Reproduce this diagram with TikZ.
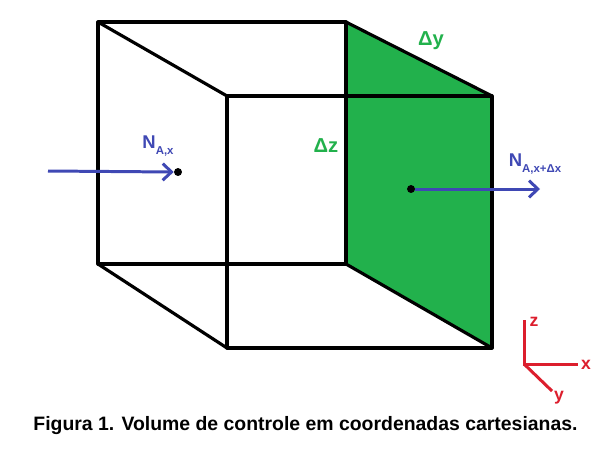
\documentclass[tikz,border=0pt]{standalone}
\usepackage{fontspec}
\setmainfont{Liberation Sans}
\usetikzlibrary{arrows.meta}
\definecolor{facegreen}{RGB}{34,177,76}
\definecolor{fluxblue}{RGB}{63,72,180}
\definecolor{axisred}{RGB}{220,30,45}
\tikzset{
    edge/.style={line width=1.8pt, line cap=round, line join=round},
    flux/.style={line width=1.7pt, fluxblue, -{Straight Barb[length=5pt, width=9.5pt, line width=1.7pt]}},
    axis/.style={line width=1.7pt, axisred},
    dot/.style={circle, fill, inner sep=1.6pt},
    greenlabel/.style={text=facegreen, font=\bfseries\fontsize{11.5}{11.5}\selectfont, inner sep=0pt},
    fluxlabel/.style={text=fluxblue, font=\bfseries\fontsize{10.5}{10.5}\selectfont, inner sep=0pt},
    axislabel/.style={text=axisred, font=\bfseries\fontsize{10}{10}\selectfont, inner sep=0pt}
}
\newcommand{\fluxsub}[1]{\raisebox{-3pt}{\fontsize{6.5}{6.5}\selectfont #1}}
\begin{document}
\begin{tikzpicture}[x=0.02cm, y=-0.02cm]
    \useasboundingbox (0, 0) rectangle (611, 467);

    \coordinate (A) at (98, 22);
    \coordinate (B) at (346, 22);
    \coordinate (C) at (346, 264);
    \coordinate (D) at (98, 264);
    \coordinate (E) at (227, 96);
    \coordinate (F) at (492, 96);
    \coordinate (G) at (492, 348);
    \coordinate (H) at (227, 348);

    \fill[facegreen] (B) -- (F) -- (G) -- (C) -- cycle;

    % cube
    \draw[edge] (A) -- (B) -- (C) -- (D) -- cycle;
    \draw[edge] (E) -- (F) -- (G) -- (H) -- cycle;
    \draw[edge] (A) -- (E);
    \draw[edge] (B) -- (F);
    \draw[edge] (C) -- (G);
    \draw[edge] (D) -- (H);

    % fluxes
    \node[dot] (inDot) at (178, 172) {};
    \node[dot] (outDot) at (411, 189) {};
    \coordinate (inStart) at (48, 171);
    \coordinate (outEnd) at (540, 189);
    \draw[flux] (inStart) -- (inDot.west);
    \draw[flux] (outDot) -- (outEnd);

    \node[fluxlabel] (inLabel) at (158, 146) {N\fluxsub{A,x}};
    \node[fluxlabel] (outLabel) at (535, 164) {N\fluxsub{A,x+Δx}};
    \node[greenlabel] (dy) at (431, 41) {Δy};
    \node[greenlabel] (dz) at (326, 146) {Δz};

    % axes
    \coordinate (O) at (524, 364);
    \coordinate (zEnd) at (524, 320);
    \coordinate (xEnd) at (578, 364);
    \coordinate (yEnd) at (552, 391);
    \draw[axis] (zEnd) -- (O) -- (xEnd);
    \draw[axis] (O) -- (yEnd);
    \node[axislabel] (zLabel) at (534, 322) {z};
    \node[axislabel] (xLabel) at (586, 365) {x};
    \node[axislabel] (yLabel) at (559, 398) {y};

    \node[font=\bfseries\fontsize{11.05}{11.05}\selectfont, inner sep=0pt] (caption) at (305.5, 426) {Figura 1. Volume de controle em coordenadas cartesianas.};
\end{tikzpicture}
\end{document}
